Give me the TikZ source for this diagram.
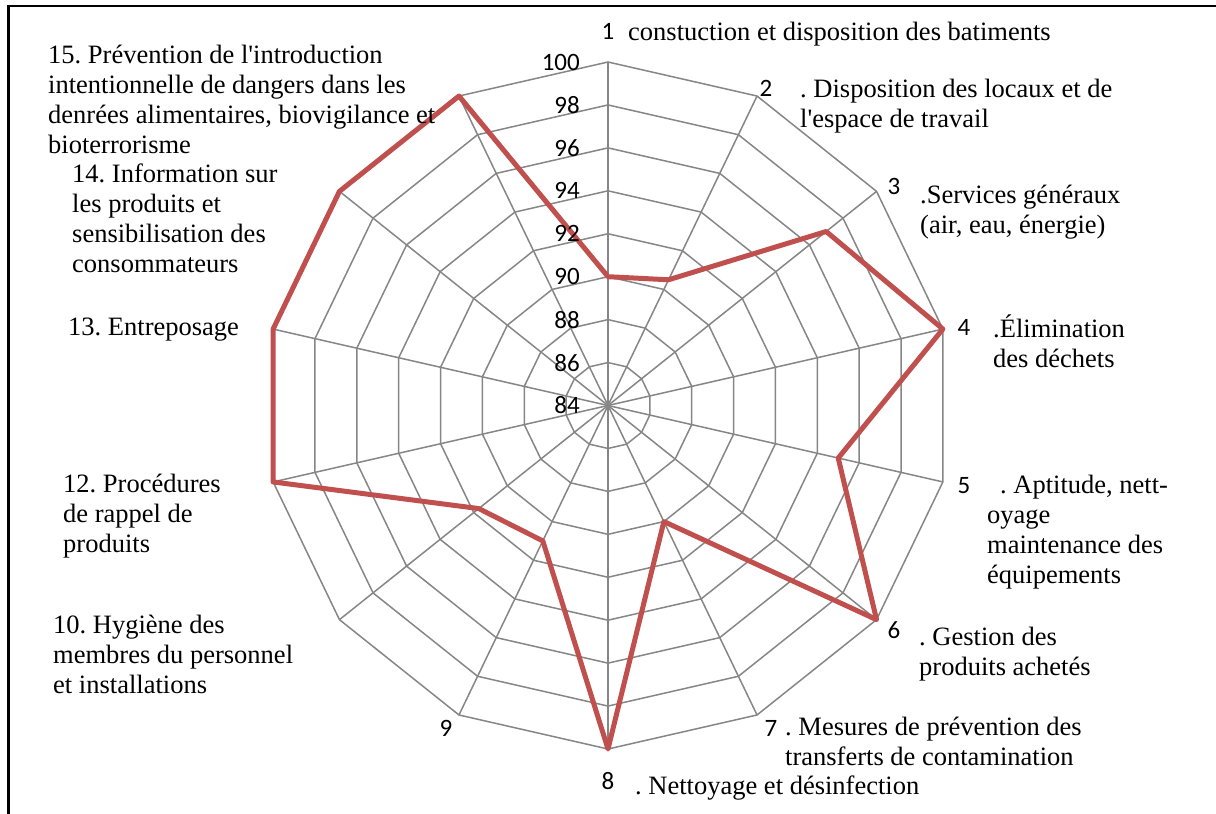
\documentclass[tikz,border=0pt]{standalone}
\usepackage{fontspec}
\setmainfont{Liberation Serif}
\newfontfamily\numfont{Carlito}
\usetikzlibrary{calc}
\frenchspacing

\definecolor{gridgray}{RGB}{134,134,134}
\definecolor{seriesred}{RGB}{192,80,77}

% left-aligned block of lines, baseline = first line
\newcommand{\stackedlines}[1]{\vtop{\baselineskip=30pt\lineskiplimit=-100pt\halign{##\hfil\cr#1\crcr}}}

\tikzset{
  grid/.style={draw=gridgray, line width=1.5pt},
  series/.style={draw=seriesred, line width=5pt, line join=round},
  frameline/.style={draw=black, line width=2.6pt},
  axisnum/.style={inner sep=0pt, font=\numfont\fontsize{25}{29}\selectfont},
  ticklbl/.style={inner sep=0pt, anchor=east, font=\numfont\fontsize{25}{29}\selectfont},
  cat/.style={inner sep=0pt, anchor=base west, font=\fontsize{26.5}{30}\selectfont},
}

\begin{document}
\begin{tikzpicture}[x=1pt, y=-1pt]
\useasboundingbox (0,0) rectangle (1216,814);

% frame
\coordinate (fbl) at (8.7,814);
\coordinate (ftl) at (8.7,6);
\coordinate (ftr) at (1216,6);
\draw[frameline] (fbl) -- (ftl) -- (ftr);

% radar geometry: centre = 84, outer ring = 100
\coordinate (c) at (608,405.5);
\foreach \i in {1,...,14}{
  \pgfmathsetmacro\ang{(\i-1)*360/14}
  \coordinate (o\i) at ({608+343.5*sin(\ang)},{405.5-343.5*cos(\ang)});
}

% rings 86 ... 100
\foreach \k in {1,...,8}{
  \draw[grid] ($(c)!\k/8!(o1)$)
    \foreach \i in {2,...,14}{ -- ($(c)!\k/8!(o\i)$) } -- cycle;
}
% spokes
\foreach \i in {1,...,14}{ \draw[grid] (c) -- (o\i); }

% data series
\foreach \i/\v in {1/90, 2/90.5, 3/97, 4/100, 5/95, 6/100, 7/90,
                   8/100, 9/91, 10/91.7, 11/100, 12/100, 13/100, 14/100}{
  \coordinate (d\i) at ($(c)!{(\v-84)/16}!(o\i)$);
}
\draw[series] (d1) -- (d2) -- (d3) -- (d4) -- (d5) -- (d6) -- (d7) -- (d8)
  -- (d9) -- (d10) -- (d11) -- (d12) -- (d13) -- (d14) -- cycle;

% scale labels
\foreach \v in {84,86,...,100}{
  \node[ticklbl] (t\v) at (580,{405.5-343.5*(\v-84)/16}) {\v};
}

% axis numbers
\node[axisnum] (n1) at (608,31.5) {1};
\node[axisnum] (n2) at (766,88) {2};
\node[axisnum] (n3) at (894,186) {3};
\node[axisnum] (n4) at (964,327) {4};
\node[axisnum] (n5) at (964,486) {5};
\node[axisnum] (n6) at (894,630) {6};
\node[axisnum] (n7) at (771,728) {7};
\node[axisnum] (n8) at (608,781) {8};
\node[axisnum] (n9) at (446,728) {9};

% category labels
\node[cat] (l1) at (628,40) {constuction et disposition des batiments};
\node[cat] (l2) at (800,97) {\stackedlines{. Disposition des locaux et de\cr l\textquotesingle espace de travail}};
\node[cat] (l3) at (920,203) {\stackedlines{.Services généraux\cr (air, eau, énergie)}};
\node[cat] (l4) at (993,337) {\stackedlines{.Élimination\cr des déchets}};
\node[cat] (l5) at (987,493) {\stackedlines{\hspace*{13pt}. Aptitude, nett-\cr oyage\cr maintenance des\cr équipements}};
\node[cat] (l6) at (919,645) {\stackedlines{. Gestion des\cr produits achetés}};
\node[cat] (l7) at (785,735) {\stackedlines{. Mesures de prévention des\cr transferts de contamination}};
\node[cat] (l8) at (635,794) {. Nettoyage et désinfection};
\node[cat] (l10) at (53,633) {\stackedlines{10. Hygiène des\cr membres du personnel\cr et installations}};
\node[cat] (l12) at (63,492) {\stackedlines{12. Procédures\cr de rappel de\cr produits}};
\node[cat] (l13) at (68,335) {13. Entreposage};
\node[cat] (l14) at (72,182) {\stackedlines{14. Information sur\cr les produits et\cr sensibilisation des\cr consommateurs}};
\node[cat] (l15) at (48,63) {\stackedlines{15. Prévention de l\textquotesingle introduction\cr intentionnelle de dangers dans les\cr denrées alimentaires, biovigilance et\cr bioterrorisme}};
\end{tikzpicture}
\end{document}
